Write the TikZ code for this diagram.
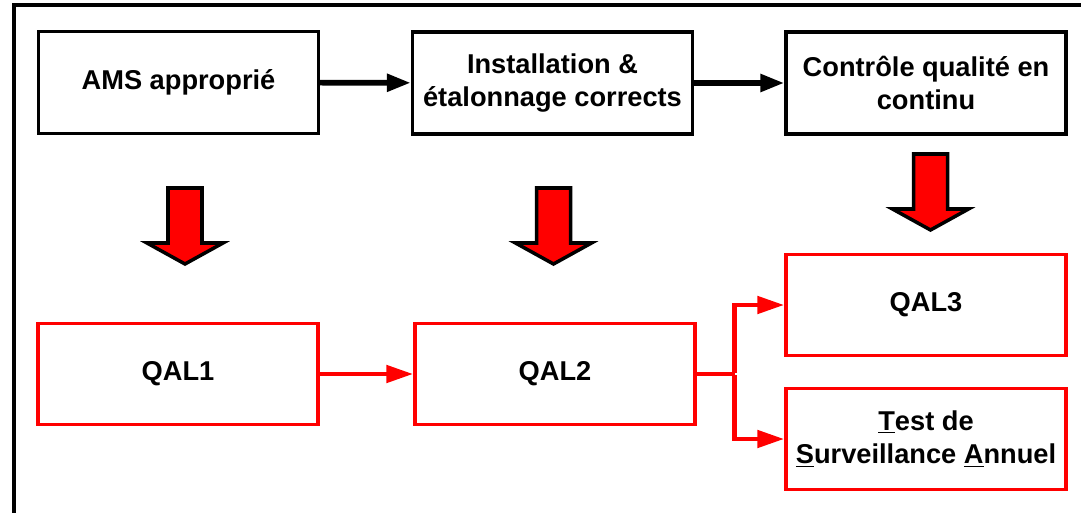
\documentclass[tikz,border=0pt]{standalone}
\usepackage{fontspec}
\setmainfont{Liberation Sans}
\usetikzlibrary{arrows.meta, positioning}

\begin{document}
\begin{tikzpicture}[x=0.02cm, y=-0.02cm, every node/.style={font=\bfseries\fontsize{15.5}{19}\selectfont, align=center},
  stagebox/.style={draw=black, line width=2pt, minimum width=5.6cm, minimum height=2.04cm},
  qalbox/.style={draw=red, line width=2pt, minimum width=5.6cm, minimum height=2.02cm},
  flow/.style={line width=3.2pt, -{Triangle[length=0.48cm,width=0.34cm]}},
  redflow/.style={draw=red, line width=2.8pt, -{Triangle[length=0.54cm,width=0.34cm]}},
  blockarrow/.style={fill=red, draw=black, line width=2pt, line join=miter}]

\useasboundingbox (0,0) rectangle (1081,513);

% Frame (cut at the right and bottom)
\draw[line width=2pt] (14,513) -- (14,5) -- (1081,5);

% Top row (black)
\node[stagebox] (ams) at (178.5,82.5) {AMS appropri\'e};
\node[stagebox] (inst) at (552.5,83) {Installation \&\\\'etalonnage corrects};
\node[stagebox] (ctrl) at (926,83) {Contr\^ole qualit\'e en\\continu};

% Bottom row (red)
\node[qalbox] (qal1) at (178,374) {QAL1};
\node[qalbox] (qal2) at (555,374) {QAL2};
\node[qalbox] (qal3) at (926,305) {QAL3};
\node[qalbox] (ast) at (926,439) {\underline{T}est de\\\underline{S}urveillance \underline{A}nnuel};

% Block arrows
\foreach \cx/\ty in {185/188, 553.5/188, 930.5/154} {
  \draw[blockarrow] (\cx-17,\ty) -- (\cx+17,\ty) -- (\cx+17,\ty+55) -- (\cx+38,\ty+55)
    -- (\cx,\ty+76) -- (\cx-38,\ty+55) -- (\cx-17,\ty+55) -- cycle;
}

% Connections (top row)
\draw[flow] (ams) -- (inst);
\draw[flow] (inst) -- (ctrl);

% Connections (bottom row)
\draw[redflow] (qal1) -- (qal2);
\draw[draw=red, line width=2.8pt] (qal2.east) -- ++(38,0) coordinate (fork);
\draw[redflow] ([yshift=0.02cm]fork) |- (qal3.west);
\draw[redflow] ([yshift=-0.02cm]fork) |- (ast.west);

\end{tikzpicture}
\end{document}
